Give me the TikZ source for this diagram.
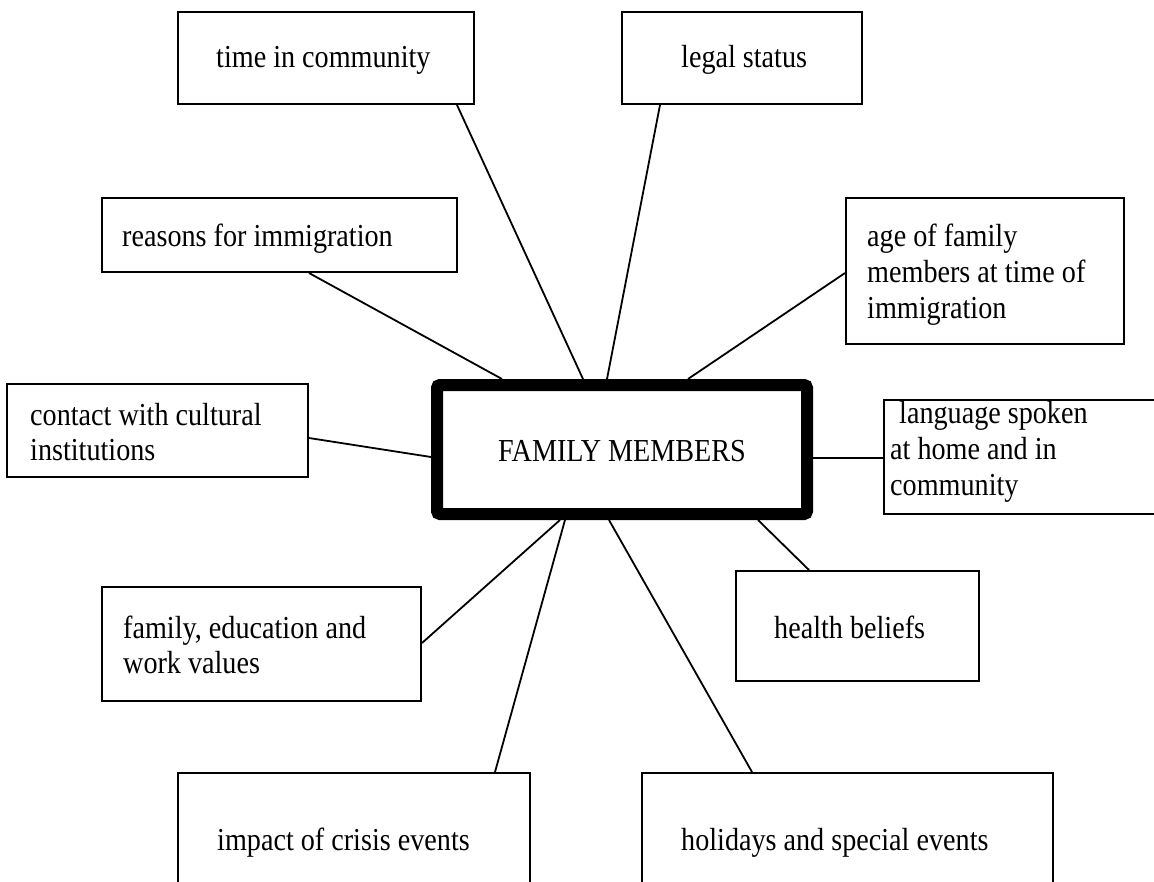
\documentclass[tikz,border=0pt]{standalone}
\usepackage{fontspec}
\setmainfont{Liberation Serif}[FakeStretch=0.88]
\usetikzlibrary{calc}
\tikzset{
  box/.style={draw=black, line width=2pt, rectangle, inner sep=0pt},
  hub/.style={draw=black, line width=12pt, rectangle, rounded corners=3pt, inner sep=0pt},
  lbl/.style={anchor=base west, inner sep=0pt, font=\fontsize{32}{37}\selectfont, text=black},
  clbl/.style={anchor=base, inner sep=0pt, font=\fontsize{32}{37}\selectfont, text=black},
  link/.style={draw=black, line width=1.8pt}
}
\begin{document}
\begin{tikzpicture}[x=1pt, y=-1pt]
\path[use as bounding box] (0,0) rectangle (1154,881);
\fill[white] (0,0) rectangle (1154,881);
\begin{scope}
\clip (0,0) rectangle (1154,881);
% boxes
\node[box, minimum width=296pt, minimum height=92pt] (time) at (326,58) {};
\node[box, minimum width=240pt, minimum height=92pt] (legal) at (742,58) {};
\node[box, minimum width=355pt, minimum height=74pt] (reasons) at (279.5,235) {};
\node[box, minimum width=278pt, minimum height=146pt] (age) at (985,271) {};
\node[box, minimum width=301pt, minimum height=93pt] (contact) at (157.5,430.5) {};
\node[hub, minimum width=370pt, minimum height=129pt] (fam) at (622,449.5) {};
\node[box, minimum width=296pt, minimum height=114pt] (lang) at (1032,457) {};
\node[box, minimum width=243pt, minimum height=110pt] (health) at (857.5,626) {};
\node[box, minimum width=319pt, minimum height=114pt] (values) at (261.5,644) {};
\node[box, minimum width=352pt, minimum height=127pt] (impact) at (354,836.5) {};
\node[box, minimum width=411pt, minimum height=127pt] (holidays) at (847.5,836.5) {};
% texts
\node[lbl] (timeT) at (216,67) {time in community};
\node[lbl] (legalT) at (681,67) {legal status};
\node[lbl] (reasonsT) at (122,246) {reasons for immigration};
\node[lbl] (ageT1) at (867,246) {age of family};
\node[lbl] (ageT2) at (867,282) {members at time of};
\node[lbl] (ageT3) at (867,318) {immigration};
\node[lbl] (contactT1) at (30,425) {contact with cultural};
\node[lbl] (contactT2) at (30,460) {institutions};
\node[clbl] (famT) at (622,461) {FAMILY MEMBERS};
\node[lbl] (langT1) at (899,423) {language spoken};
\node[lbl] (langT2) at (890,459) {at home and in};
\node[lbl] (langT3) at (890,495) {community};
\node[lbl] (healthT) at (774,638) {health beliefs};
\node[lbl] (valuesT1) at (123,638) {family, education and};
\node[lbl] (valuesT2) at (123,673) {work values};
\node[lbl] (impactT) at (217,850) {impact of crisis events};
\node[lbl] (holidaysT) at (681,850) {holidays and special events};
% connectors
\draw[link] ([xshift=131pt]time.south) -- ([xshift=-39pt]fam.north);
\draw[link] ([xshift=-82pt]legal.south) -- ([xshift=-15pt]fam.north);
\draw[link] ([xshift=29.5pt]reasons.south) -- ([xshift=-120pt]fam.north);
\draw[link] ([yshift=-2pt]age.west) -- ([xshift=66pt]fam.north);
\draw[link] ([yshift=-7.5pt]contact.east) -- ([yshift=-7.5pt]fam.west);
\draw[link] ([yshift=-8.5pt]fam.east) -- ([yshift=-8.5pt]fam.east -| lang.west);
\draw[link] ([xshift=136pt]fam.south) -- ([xshift=-48.5pt]health.north);
\draw[link] ([xshift=-62pt]fam.south) -- ([yshift=1pt]values.east);
\draw[link] ([xshift=-57pt]fam.south) -- ([xshift=141pt]impact.north);
\draw[link] ([xshift=-13pt]fam.south) -- ([xshift=-95.5pt]holidays.north);
\end{scope}
\end{tikzpicture}
\end{document}
